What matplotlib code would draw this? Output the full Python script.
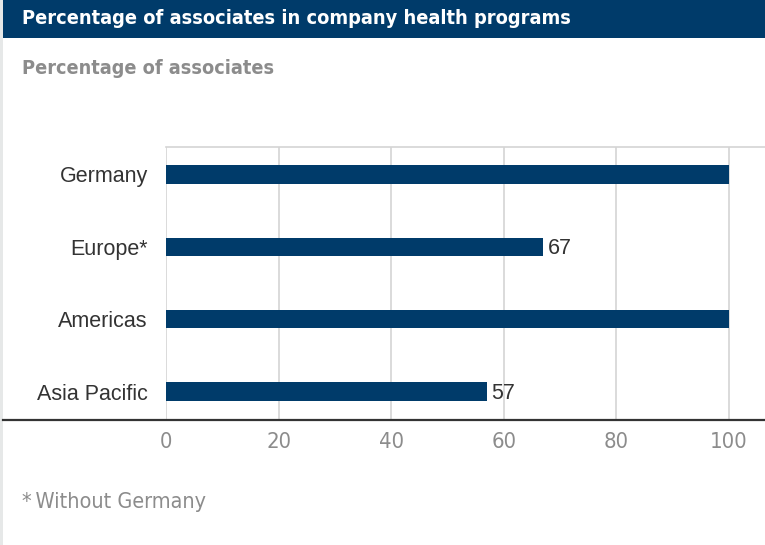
import matplotlib
matplotlib.use("Agg")
import matplotlib.pyplot as plt
from matplotlib.patches import Rectangle
from matplotlib.lines import Line2D

categories = ["Germany", "Europe*", "Americas", "Asia Pacific"]
values = [100, 67, 100, 57]
value_labels = [None, "67", None, "57"]
xticks = [0, 20, 40, 60, 80, 100]

NAVY = "#003b6a"
GRAY = "#8c8c8c"
DARK = "#333333"
NARROW = dict(family="DejaVu Sans", fontstretch="condensed")
REG = dict(family=["Liberation Sans", "DejaVu Sans"])

W, H = 765, 545
fig = plt.figure(figsize=(W / 100, H / 100), dpi=100)
fig.patch.set_facecolor("white")

def fx(px):
    return px / W

def fy(py):
    return 1 - py / H

# left light strip
fig.add_artist(Rectangle((0, 0), fx(3), 1, transform=fig.transFigure,
                         facecolor="#e6e8e8", edgecolor="none", zorder=0))
# title bar
fig.add_artist(Rectangle((fx(3), fy(38)), 1 - fx(3), 38 / H, transform=fig.transFigure,
                         facecolor=NAVY, edgecolor="none", zorder=1))
fig.text(fx(22), fy(19), "Percentage of associates in company health programs",
         color="white", fontsize=14.3, fontweight="bold", va="center", ha="left", **NARROW)
fig.text(fx(22), fy(68), "Percentage of associates", color=GRAY, fontsize=14.2,
         fontweight="bold", va="center", ha="left", **NARROW)
fig.text(fx(22), fy(502), "*\u2009Without Germany", color=GRAY, fontsize=15.5,
         va="center", ha="left", **NARROW)

left, right, top, bottom = 166, 765, 147, 419
ax = fig.add_axes([fx(left), fy(bottom), (right - left) / W, (bottom - top) / H])
ax.set_facecolor("none")
x_max = 100 * (right - left) / (729 - left)
ax.set_xlim(0, x_max)
ypos = list(range(len(categories)))
ax.set_ylim(len(categories) - 1 + 0.38, -0.38)

ax.barh(ypos, values, height=0.25, color=NAVY, zorder=3)
for y, v, lab in zip(ypos, values, value_labels):
    if lab:
        ax.text(v + 0.8, y + 0.03, lab, va="center", ha="left", fontsize=15.5,
                color=DARK, **REG)

ax.set_xticks(xticks)
ax.set_xticklabels([str(t) for t in xticks], color=GRAY, fontsize=15.8, **NARROW)
ax.tick_params(axis="x", length=0, pad=9)
ax.set_yticks(ypos)
ax.set_yticklabels(categories, color=DARK, fontsize=15.5, **REG)
ax.tick_params(axis="y", length=0, pad=13)
ax.grid(axis="x", color="#d4d4d4", linewidth=1.2, zorder=0)
for s in ["left", "right", "bottom"]:
    ax.spines[s].set_visible(False)
ax.spines["top"].set_color("#d4d4d4")
ax.spines["top"].set_linewidth(1.2)

# bottom axis line across figure
fig.add_artist(Line2D([fx(3), 1], [fy(420), fy(420)], transform=fig.transFigure,
                      color="#333333", linewidth=1.6, zorder=5))

fig.savefig("out.png", dpi=100)
